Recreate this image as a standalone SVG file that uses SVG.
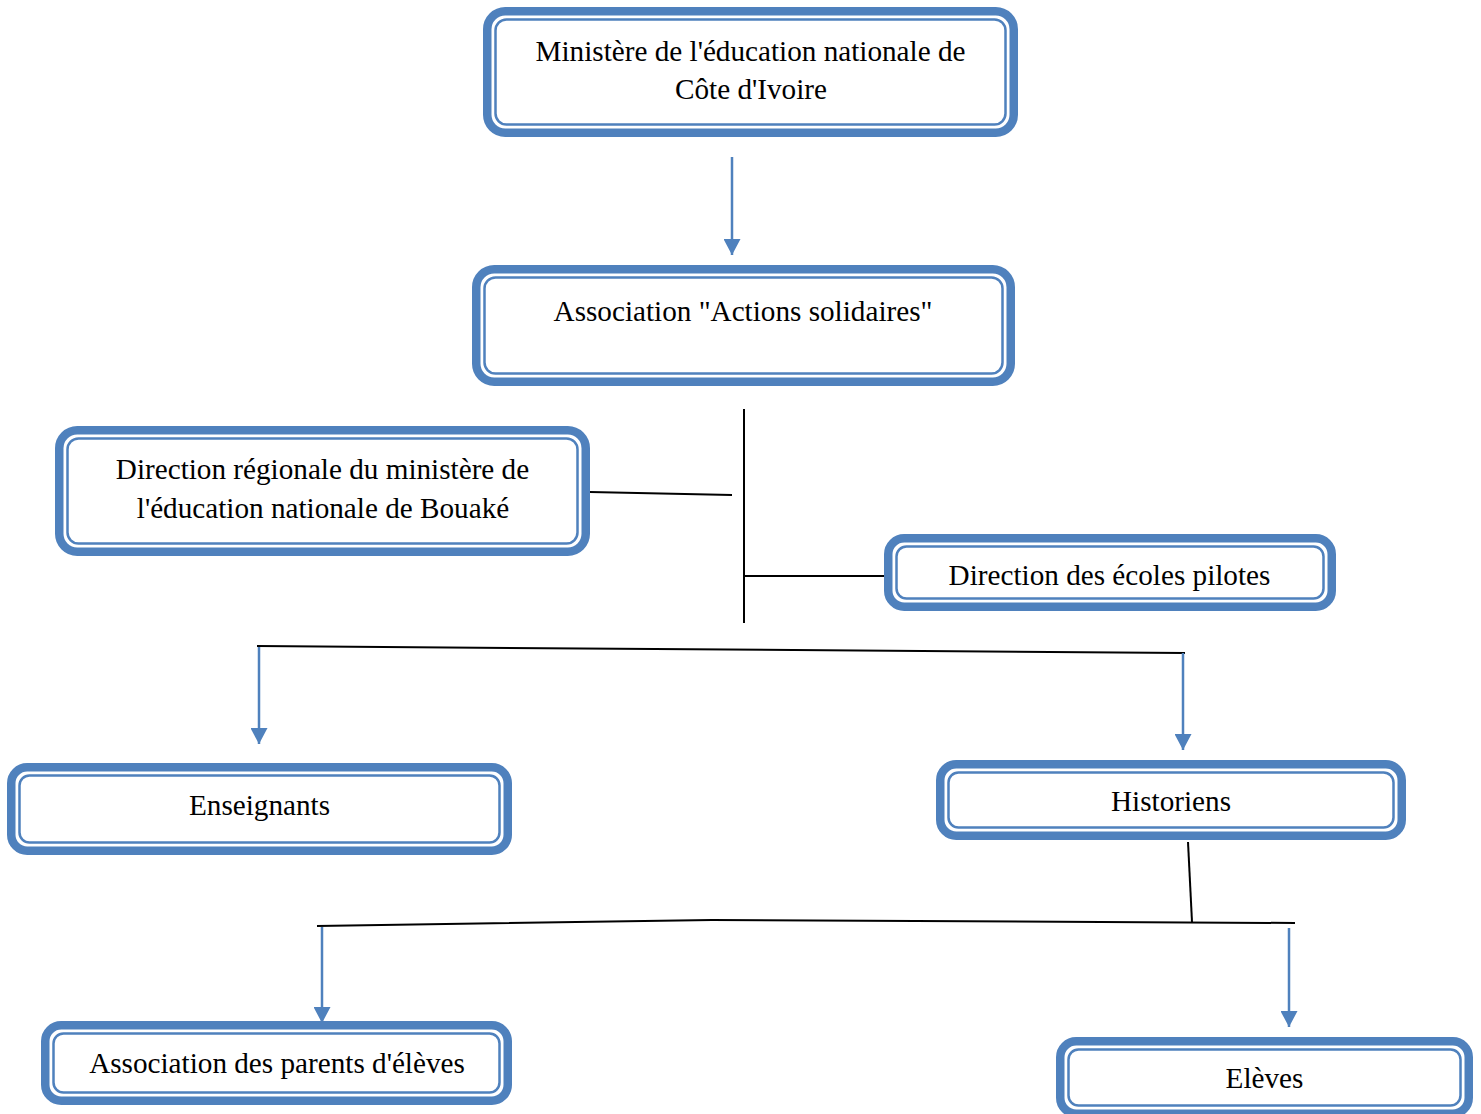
<svg xmlns="http://www.w3.org/2000/svg" width="1481" height="1114" viewBox="0 0 1481 1114">
<style>
.outer{fill:#fff;stroke:#4F81BD;stroke-width:8.5}
.inner{fill:none;stroke:#4F81BD;stroke-width:2.5}
.t{font-family:"Liberation Serif","Times New Roman",serif;font-size:29.2px;fill:#000;text-anchor:middle}
.bl{stroke:#000;stroke-width:2;fill:none}
.ar{stroke:#4F81BD;stroke-width:2.5;fill:none}
</style>
<defs>
<marker id="ah" markerUnits="userSpaceOnUse" markerWidth="17" markerHeight="17" viewBox="0 0 16 16" refX="15" refY="8" orient="auto">
<path d="M0,0 L15,8 L0,16 Z" fill="#4F81BD"/>
</marker>
</defs>
<rect width="1481" height="1114" fill="#fff"/>
<g id="connectors">
<line class="ar" x1="732" y1="157" x2="732" y2="255" marker-end="url(#ah)"/>
<line class="bl" x1="744" y1="409" x2="744" y2="623"/>
<line class="bl" x1="590" y1="492" x2="732" y2="495"/>
<line class="bl" x1="745" y1="576" x2="884" y2="576"/>
<line class="bl" x1="257" y1="646" x2="1185" y2="653"/>
<line class="ar" x1="259" y1="647" x2="259" y2="744" marker-end="url(#ah)"/>
<line class="ar" x1="1183" y1="653" x2="1183" y2="750" marker-end="url(#ah)"/>
<line class="bl" x1="1188" y1="842" x2="1192" y2="922"/>
<polyline class="bl" points="317,926 712,920 1295,923"/>
<line class="ar" x1="322" y1="927" x2="322" y2="1023" marker-end="url(#ah)"/>
<line class="ar" x1="1289" y1="928" x2="1289" y2="1027" marker-end="url(#ah)"/>
</g>
<g id="n1">
<rect class="outer" x="487.25" y="11.25" width="526.5" height="121.5" rx="18"/>
<rect class="inner" x="495.5" y="19.5" width="510" height="105" rx="11"/>
<text class="t" x="750.5" y="61">Ministère de l'éducation nationale de</text>
<text class="t" x="751" y="99">Côte d'Ivoire</text>
</g>
<g id="n2">
<rect class="outer" x="476.25" y="269.25" width="534.5" height="112.5" rx="18"/>
<rect class="inner" x="484.5" y="277.5" width="518" height="96" rx="11"/>
<text class="t" x="743" y="321">Association "Actions solidaires"</text>
</g>
<g id="n3">
<rect class="outer" x="59.25" y="430.25" width="526.5" height="121.5" rx="18"/>
<rect class="inner" x="67.5" y="438.5" width="510" height="105" rx="11"/>
<text class="t" x="322.5" y="479">Direction régionale du ministère de</text>
<text class="t" x="323" y="518">l'éducation nationale de Bouaké</text>
</g>
<g id="n4">
<rect class="outer" x="888.25" y="538.25" width="443.5" height="68.5" rx="16"/>
<rect class="inner" x="896.5" y="546.5" width="427" height="52" rx="10"/>
<text class="t" x="1109.5" y="585">Direction des écoles pilotes</text>
</g>
<g id="n5">
<rect class="outer" x="11.25" y="767.25" width="496.5" height="83.5" rx="16"/>
<rect class="inner" x="19.5" y="775.5" width="480" height="67" rx="10"/>
<text class="t" x="259.5" y="815">Enseignants</text>
</g>
<g id="n6">
<rect class="outer" x="940.25" y="764.25" width="461.5" height="71.5" rx="16"/>
<rect class="inner" x="948.5" y="772.5" width="445" height="55" rx="10"/>
<text class="t" x="1171" y="811">Historiens</text>
</g>
<g id="n7">
<rect class="outer" x="45.25" y="1025.25" width="462.5" height="75.5" rx="16"/>
<rect class="inner" x="53.5" y="1033.5" width="446" height="59" rx="10"/>
<text class="t" x="277" y="1073">Association des parents d'élèves</text>
</g>
<g id="n8">
<rect class="outer" x="1060.25" y="1041.25" width="408.5" height="72.5" rx="16"/>
<rect class="inner" x="1068.5" y="1049.5" width="392" height="56" rx="10"/>
<text class="t" x="1264.5" y="1088">Elèves</text>
</g>
</svg>
